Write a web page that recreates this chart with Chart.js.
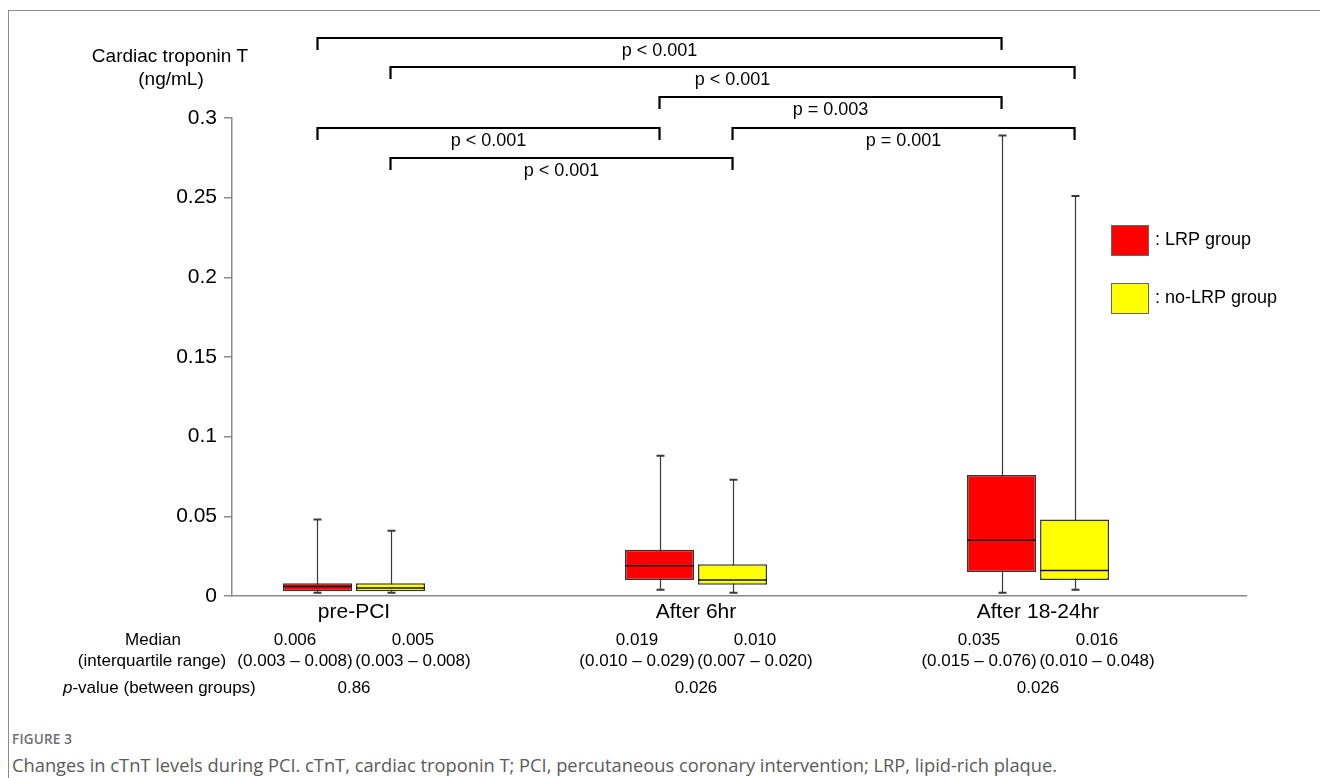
<!DOCTYPE html>
<html>
<head>
<meta charset="utf-8">
<title>Changes in cTnT levels during PCI</title>
<script src="https://cdn.jsdelivr.net/npm/chart.js@4.4.1/dist/chart.umd.min.js"></script>
<style>
  html, body { margin: 0; padding: 0; background: #fff; }
  body { width: 1320px; height: 778px; position: relative; overflow: hidden; }
  #frame { position: absolute; left: 8px; top: 10px; width: 1312px; height: 768px;
           border-top: 1px solid #8c8c8c; border-left: 1px solid #8c8c8c; box-sizing: border-box; }
  #plot { position: absolute; left: 0; top: 0; }
  .fig-label { position: absolute; left: 12px; top: 730px; font-family: 'Open Sans', sans-serif;
               font-size: 13.5px; font-weight: 600; color: #6e6e6e; letter-spacing: 0.2px; }
  .fig-caption { position: absolute; left: 12px; top: 752px; font-family: 'Open Sans', sans-serif;
                 font-size: 18.3px; color: #5a5a5a; white-space: nowrap; }
</style>
</head>
<body>
<div id="frame"></div>
<canvas id="plot" width="1320" height="720"></canvas>
<div class="fig-label">FIGURE 3</div>
<div class="fig-caption">Changes in cTnT levels during PCI. cTnT, cardiac troponin T; PCI, percutaneous coronary intervention; LRP, lipid-rich plaque.</div>

<script>
// Time points and groups
const categories = ['pre-PCI', 'After 6hr', 'After 18-24hr'];
const groupNames = ['LRP group', 'no-LRP group'];
const groupColors = ['#ff0000', '#ffff00'];

// Cardiac troponin T (ng/mL) box-plot statistics, LRP group
const lrpMin    = [0.002, 0.004, 0.002];
const lrpQ1     = [0.003, 0.010, 0.015];
const lrpMedian = [0.006, 0.019, 0.035];
const lrpQ3     = [0.008, 0.029, 0.076];
const lrpMax    = [0.048, 0.088, 0.289];

// Cardiac troponin T (ng/mL) box-plot statistics, no-LRP group
const noLrpMin    = [0.002, 0.002, 0.004];
const noLrpQ1     = [0.003, 0.007, 0.010];
const noLrpMedian = [0.005, 0.010, 0.016];
const noLrpQ3     = [0.008, 0.020, 0.048];
const noLrpMax    = [0.041, 0.073, 0.251];

// Between-group p-values at each time point
const betweenGroupP = ['0.86', '0.026', '0.026'];

// Y axis ticks
const yTicks = [0, 0.05, 0.1, 0.15, 0.2, 0.25, 0.3];

// Within-group comparisons over time: [group, from time, to time, bracket level (ng/mL), label]
const compGroup = [0, 1, 0, 0, 1, 1];
const compFrom  = [0, 0, 1, 0, 1, 0];
const compTo    = [2, 2, 2, 1, 2, 1];
const compLevel = [0.350, 0.332, 0.313, 0.294, 0.294, 0.275];
const compText  = ['p < 0.001', 'p < 0.001', 'p = 0.003', 'p < 0.001', 'p = 0.001', 'p < 0.001'];

const stats = [
  { min: lrpMin, q1: lrpQ1, med: lrpMedian, q3: lrpQ3, max: lrpMax },
  { min: noLrpMin, q1: noLrpQ1, med: noLrpMedian, q3: noLrpQ3, max: noLrpMax }
];

const FONT = "'Liberation Sans', Arial, Helvetica, sans-serif";

function boxData(s) {
  return categories.map((c, i) => ({ x: i, y: [s.q1[i], s.q3[i]] }));
}

// Whiskers behind the boxes, median lines on top, plus brackets, legend and summary table
const boxPlotExtras = {
  id: 'boxPlotExtras',
  beforeDatasetsDraw(chart) {
    const { ctx, scales: { y } } = chart;
    ctx.save();
    chart.data.datasets.forEach((ds, di) => {
      const s = stats[di];
      chart.getDatasetMeta(di).data.forEach((bar, i) => {
        const cx = Math.round(bar.x) + 0.5;
        const yMin = y.getPixelForValue(s.min[i]);
        const yMax = y.getPixelForValue(s.max[i]);
        ctx.strokeStyle = '#3a3a3a';
        ctx.lineWidth = 1.2;
        ctx.beginPath();
        ctx.moveTo(cx, yMin);
        ctx.lineTo(cx, yMax);
        ctx.stroke();
        ctx.lineWidth = 2;
        ctx.beginPath();
        ctx.moveTo(cx - 4, yMin); ctx.lineTo(cx + 4, yMin);
        ctx.moveTo(cx - 4, yMax); ctx.lineTo(cx + 4, yMax);
        ctx.stroke();
      });
    });
    ctx.restore();
  },
  afterDatasetsDraw(chart) {
    const { ctx, scales: { y } } = chart;
    ctx.save();
    chart.data.datasets.forEach((ds, di) => {
      const s = stats[di];
      chart.getDatasetMeta(di).data.forEach((bar, i) => {
        const ym = y.getPixelForValue(s.med[i]);
        ctx.strokeStyle = '#111';
        ctx.lineWidth = 1.6;
        ctx.beginPath();
        ctx.moveTo(bar.x - bar.width / 2, ym);
        ctx.lineTo(bar.x + bar.width / 2, ym);
        ctx.stroke();
      });
    });
    ctx.restore();
  },
  afterDraw(chart) {
    const { ctx, scales: { x, y } } = chart;
    ctx.save();
    ctx.fillStyle = '#000';

    // Y axis title
    ctx.font = '19px ' + FONT;
    ctx.textAlign = 'center';
    ctx.textBaseline = 'middle';
    ctx.fillText('Cardiac troponin T', 170, 57);
    ctx.fillText('(ng/mL)', 171, 80);

    // Comparison brackets
    ctx.strokeStyle = '#000';
    ctx.lineWidth = 2.2;
    ctx.font = '18px ' + FONT;
    compText.forEach((t, k) => {
      const meta = chart.getDatasetMeta(compGroup[k]);
      const x1 = meta.data[compFrom[k]].x;
      const x2 = meta.data[compTo[k]].x;
      const yl = Math.round(y.getPixelForValue(compLevel[k]));
      ctx.beginPath();
      ctx.moveTo(x1, yl + 12);
      ctx.lineTo(x1, yl);
      ctx.lineTo(x2, yl);
      ctx.lineTo(x2, yl + 12);
      ctx.stroke();
      ctx.fillText(t, (x1 + x2) / 2, yl + 13);
    });

    // Legend
    ctx.textAlign = 'left';
    ctx.font = '18px ' + FONT;
    groupNames.forEach((g, k) => {
      const top = 225 + k * 58;
      ctx.fillStyle = groupColors[k];
      ctx.fillRect(1111, top, 37, 30);
      ctx.strokeStyle = '#666';
      ctx.lineWidth = 1;
      ctx.strokeRect(1111.5, top + 0.5, 37, 30);
      ctx.fillStyle = '#000';
      ctx.fillText(': ' + g, 1155, top + 15);
    });

    // Summary table under the axis
    ctx.font = '17px ' + FONT;
    ctx.textAlign = 'center';
    ctx.fillText('Median', 153, 640);
    ctx.fillText('(interquartile range)', 152, 661);
    ctx.textAlign = 'left';
    ctx.font = 'italic 17px ' + FONT;
    ctx.fillText('p', 63, 688);
    const pw = ctx.measureText('p').width;
    ctx.font = '17px ' + FONT;
    ctx.fillText('-value (between groups)', 63 + pw, 688);
    ctx.textAlign = 'center';
    categories.forEach((c, i) => {
      const cx = x.getPixelForValue(i);
      stats.forEach((s, di) => {
        const tx = cx + (di === 0 ? -59 : 59);
        ctx.fillText(s.med[i].toFixed(3), tx, 640);
        ctx.fillText('(' + s.q1[i].toFixed(3) + ' \u2013 ' + s.q3[i].toFixed(3) + ')', tx, 661);
      });
      ctx.fillText(betweenGroupP[i], cx, 688);
    });
    ctx.restore();
  }
};

new Chart(document.getElementById('plot'), {
  type: 'bar',
  data: {
    datasets: groupNames.map((g, k) => ({
      label: g,
      data: boxData(stats[k]),
      backgroundColor: groupColors[k],
      borderColor: '#333',
      borderWidth: 1.5,
      borderSkipped: false,
      categoryPercentage: 0.427,
      barPercentage: 0.945
    }))
  },
  options: {
    responsive: false,
    animation: false,
    devicePixelRatio: 1,
    layout: { padding: { top: 118, right: 74, left: 0, bottom: 0 } },
    plugins: { legend: { display: false }, tooltip: { enabled: false }, title: { display: false } },
    scales: {
      x: {
        type: 'linear',
        min: -0.3567,
        max: 2.608,
        offset: false,
        grid: { display: false, drawTicks: false, offset: false },
        border: { display: true, color: '#8a8a8a', width: 1.5 },
        afterBuildTicks(scale) { scale.ticks = categories.map((c, i) => ({ value: i })); },
        afterFit(scale) { scale.height = 124; },
        ticks: {
          padding: 4,
          color: '#000',
          font: { family: FONT, size: 21 },
          maxRotation: 0,
          autoSkip: false,
          callback: v => categories[v]
        }
      },
      y: {
        type: 'linear',
        min: 0,
        max: 0.3,
        afterBuildTicks(scale) { scale.ticks = yTicks.map(v => ({ value: v })); },
        afterFit(scale) { scale.width = 232; },
        grid: { drawOnChartArea: false, drawTicks: true, tickLength: 8, color: '#8a8a8a', lineWidth: 1.5 },
        border: { display: true, color: '#8a8a8a', width: 1.5 },
        ticks: {
          padding: 7,
          color: '#000',
          font: { family: FONT, size: 21 },
          callback: v => String(Number(v.toFixed(2)))
        }
      }
    }
  },
  plugins: [boxPlotExtras]
});
</script>
</body>
</html>
